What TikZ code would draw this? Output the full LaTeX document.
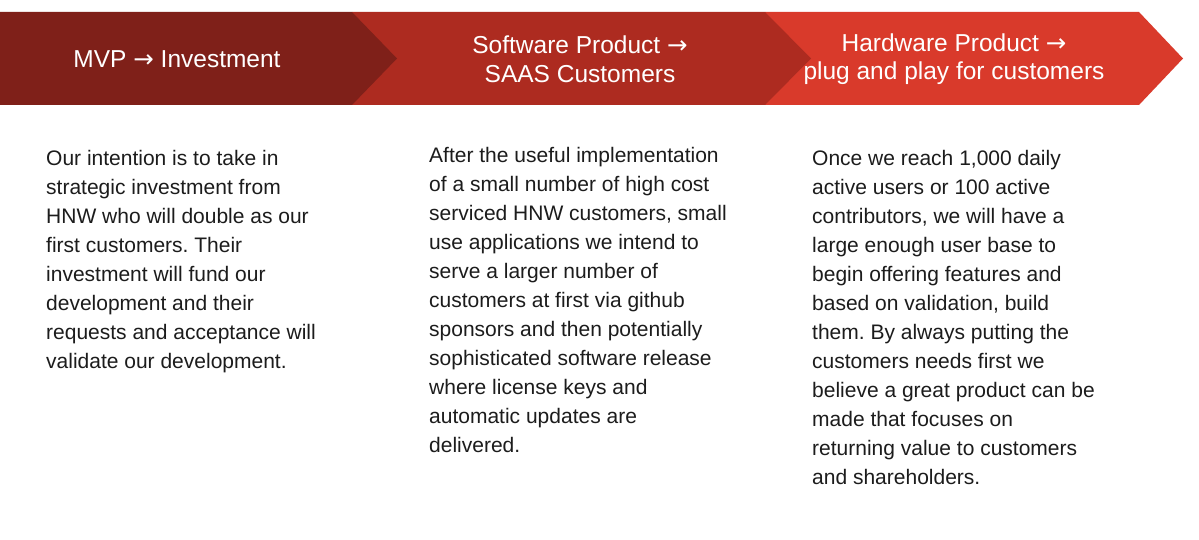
\documentclass[tikz,border=0pt]{standalone}
\usepackage{fontspec}
\setmainfont{Liberation Sans}
\newfontfamily\arrowfont{DejaVu Sans}
\newcommand{\toarrow}{{\arrowfont →}}
\frenchspacing
\definecolor{stepone}{HTML}{7F2019}
\definecolor{steptwo}{HTML}{AD2B20}
\definecolor{stepthree}{HTML}{D93A2B}
\definecolor{bodyink}{HTML}{1C1C1C}
\begin{document}
\begin{tikzpicture}[x=1pt,y=-1pt,
  headtext/.style={text=white,font=\fontsize{24.5}{28.5}\selectfont,align=center,inner sep=0pt},
  bodytext/.style={text=bodyink,font=\fontsize{21}{29}\selectfont,align=left,inner sep=0pt,anchor=north west}]
\useasboundingbox (0,0) rectangle (1199,540);
\fill[white] (0,0) rectangle (1199,540);
% chevrons, back to front
\fill[stepthree] (765,12) -- (1139,12) -- (1183,58.5) -- (1139,105) -- (765,105) -- cycle;
\fill[steptwo] (352,12) -- (765,12) -- (811,58.5) -- (765,105) -- (352,105) -- cycle;
\fill[stepone] (0,12) -- (352,12) -- (397,58.5) -- (352,105) -- (0,105) -- cycle;
% stage titles
\node[headtext] (h1) at (177,59) {MVP \toarrow{} Investment};
\node[headtext] (h2) at (580,59) {Software Product \toarrow\\SAAS Customers};
\node[headtext] (h3) at (954,59) {Hardware Product \toarrow\\plug and play for customers};
% stage descriptions
\node[bodytext] (b1) at (46,150.5) {Our intention is to take in\\strategic investment from\\HNW who will double as our\\first customers. Their\\investment will fund our\\development and their\\requests and acceptance will\\validate our development.};
\node[bodytext] (b2) at (429,147.5) {After the useful implementation\\of a small number of high cost\\serviced HNW customers, small\\use applications we intend to\\serve a larger number of\\customers at first via github\\sponsors and then potentially\\sophisticated software release\\where license keys and\\automatic updates are\\delivered.};
\node[bodytext] (b3) at (812,150.5) {Once we reach 1,000 daily\\active users or 100 active\\contributors, we will have a\\large enough user base to\\begin offering features and\\based on validation, build\\them. By always putting the\\customers needs first we\\believe a great product can be\\made that focuses on\\returning value to customers\\and shareholders.};
\end{tikzpicture}
\end{document}
